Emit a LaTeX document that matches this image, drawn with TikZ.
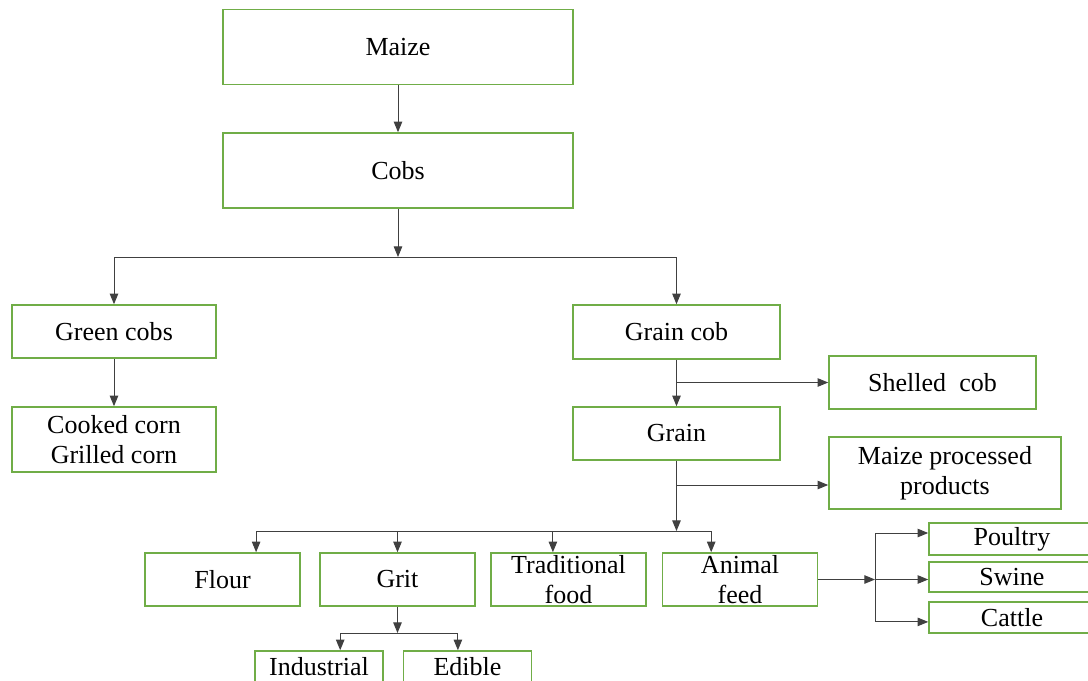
\documentclass[tikz,border=0pt]{standalone}
\usepackage{fontspec}
\setmainfont{Liberation Serif}
\usetikzlibrary{arrows.meta}
\definecolor{boxgreen}{RGB}{112,173,71}
\tikzset{
  box/.style={draw=boxgreen, line width=1.1pt, inner sep=0pt, align=center, font=\fontsize{18.5}{21.3}\selectfont},
  link/.style={draw=black!75, line width=0.7pt}
}

\begin{document}
\begin{tikzpicture}[x=0.025cm, y=-0.025cm, >={Triangle[length=7.5pt,width=6pt]}]
\useasboundingbox (0,0) rectangle (1088,680);
\clip (0,0) rectangle (1088,680);
\node[box, minimum width=8.75cm, minimum height=1.875cm] (maize) at (398,47) {Maize};
\node[box, minimum width=8.75cm, minimum height=1.875cm] (cobs) at (398,170.5) {Cobs};
\node[box, minimum width=5.1cm, minimum height=1.325cm] (greencobs) at (114,331.5) {Green cobs};
\node[box, minimum width=5.1cm, minimum height=1.625cm] (cooked) at (114,439.5) {Cooked corn\\Grilled corn};
\node[box, minimum width=5.175cm, minimum height=1.35cm] (graincob) at (676.5,332) {Grain cob};
\node[box, minimum width=5.175cm, minimum height=1.325cm] (shelled) at (932.5,382.5) {Shelled\ \ cob};
\node[box, minimum width=5.175cm, minimum height=1.325cm] (grain) at (676.5,433.5) {Grain};
\node[box, minimum width=5.8cm, minimum height=1.8cm] (processed) at (945,473) {Maize processed\\products};
\node[box, minimum width=3.875cm, minimum height=1.325cm] (flour) at (222.5,579.5) {Flour};
\node[box, minimum width=3.875cm, minimum height=1.325cm] (grit) at (397.5,579.5) {Grit};
\node[box, minimum width=3.875cm, minimum height=1.325cm] (traditional) at (568.5,579.5) {Traditional\\food};
\node[box, minimum width=3.875cm, minimum height=1.325cm] (feed) at (740,579.5) {Animal\\feed};
\node[box, minimum width=4.15cm, minimum height=0.8cm] (poultry) at (1012,539) {Poultry};
\node[box, minimum width=4.15cm, minimum height=0.75cm] (swine) at (1012,577) {Swine};
\node[box, minimum width=4.15cm, minimum height=0.775cm] (cattle) at (1012,617.5) {Cattle};
\node[box, minimum width=3.2cm, minimum height=0.8cm] (industrial) at (319,667) {Industrial};
\node[box, minimum width=3.2cm, minimum height=0.8cm] (edible) at (467.5,667) {Edible};
\coordinate (split) at (398,257);
\coordinate (fan) at (676.5,531);
\coordinate (gritfork) at (397.5,633);
\coordinate (feedfork) at (875,579.5);
\coordinate (procin) at ([yshift=-0.3cm]processed.west);
\draw[link,->] (maize) -- (cobs);
\draw[link,->] (cobs) -- (split);
\draw[link,->] (split) -| (greencobs);
\draw[link,->] (split) -| (graincob);
\draw[link,->] (greencobs) -- (cooked);
\draw[link,->] (graincob) -- (grain);
\draw[link,->] (graincob.south |- shelled.west) -- (shelled.west);
\draw[link,->] (grain) -- (fan);
\draw[link,->] (grain.south |- procin) -- (procin);
\draw[link,->] (fan) -| ([xshift=0.84cm]flour.north);
\draw[link,->] (fan) -| (grit);
\draw[link,->] (fan) -| ([xshift=-0.39cm]traditional.north);
\draw[link,->] (fan) -| ([xshift=-0.72cm]feed.north);
\draw[link,->] (grit) -- (gritfork);
\draw[link,->] (gritfork) -| ([xshift=0.53cm]industrial.north);
\draw[link,->] (gritfork) -| ([xshift=-0.24cm]edible.north);
\draw[link,->] (feed) -- (feedfork);
\draw[link,->] (feedfork) |- ([yshift=0.15cm]poultry.west);
\draw[link,->] (feedfork) -- (feedfork -| swine.west);
\draw[link,->] (feedfork) |- ([yshift=-0.11cm]cattle.west);
\end{tikzpicture}
\end{document}
